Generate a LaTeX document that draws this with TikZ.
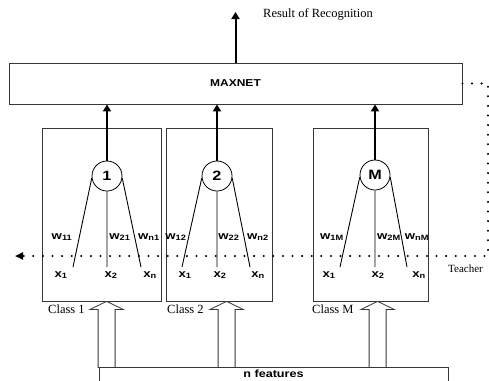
\documentclass[tikz,border=0pt]{standalone}
\usepackage{fontspec}
\setmainfont{Liberation Serif}
\newfontfamily\labelfont[FakeStretch=1.2]{Liberation Sans}
\usepackage{tikz}
\usetikzlibrary{calc}
\usetikzlibrary{arrows.meta}
\definecolor{boxgray}{RGB}{55,55,55}
\newcommand{\featarrow}[2]{%
    \draw[hollow] ($(#1.south west)+(#2,0)$) -- ++(16.5,8) -- ++(-8,0) -- ++(0,58) -- ++(-17,0) -- ++(0,-58) -- ++(-8,0) -- cycle;
}
\tikzset{
    common/.style={draw=boxgray, rectangle, line width=0.8pt, inner sep=0pt},
    classbox/.style={common, minimum height=173pt},
    neuron/.style={draw, circle, line width=0.8pt, minimum size=30pt, inner sep=0pt, font=\labelfont\bfseries\fontsize{13.5}{15}\selectfont},
    weightlabel/.style={anchor=base, inner sep=0pt, font=\labelfont\bfseries\fontsize{11}{13}\selectfont},
    classlabel/.style={anchor=base west, inner sep=0pt, font=\fontsize{12.5}{14}\selectfont},
    wire/.style={line width=0.9pt},
    uparrow/.style={line width=2pt, -{Triangle[length=7pt,width=8pt]}},
    teacher/.style={line width=2.3pt, line cap=round, dash pattern=on 0pt off 9.6pt, -{Triangle[length=8pt,width=7pt]}},
    hollow/.style={draw=boxgray, line width=0.8pt, fill=white}
}
\begin{document}
\begin{tikzpicture}[x=1pt, y=-1pt]
    \useasboundingbox (0,0) rectangle (489,380);

    \path
        (235.5,83.5) node[common, minimum width=453pt, minimum height=41pt, font=\labelfont\bfseries\fontsize{10}{12}\selectfont] (maxnet) {MAXNET}
        (235.5,12) coordinate (result)
        (263,17) node[classlabel] (result-label) {Result of Recognition}
        (101.5,214.5) node[classbox, minimum width=119pt] (c1) {}
        (219,214.5) node[classbox, minimum width=106pt] (c2) {}
        (370.5,214.5) node[classbox, minimum width=115pt] (cM) {}
        (48,313) node[classlabel] (c1-label) {Class 1}
        (167,313) node[classlabel] (c2-label) {Class 2}
        (312,313) node[classlabel] (cM-label) {Class M}
        (448,272) node[classlabel, font=\fontsize{11}{12}\selectfont] (teacher-label) {Teacher};

    % neurons and their inputs
    \path
        (107,176) node[neuron] (n1) {1}
        +(-34,91) coordinate (n1-left)
        +(0,91) coordinate (n1-mid)
        +(34,91) coordinate (n1-right)
        (217,176) node[neuron] (n2) {2}
        +(-35,91) coordinate (n2-left)
        +(0,91) coordinate (n2-mid)
        +(33,91) coordinate (n2-right)
        (375,175) node[neuron] (nM) {M}
        +(-35,92) coordinate (nM-left)
        +(0,92) coordinate (nM-mid)
        +(32,92) coordinate (nM-right);

    \draw[wire] (n1.188) -- (n1-left) (n1) -- (n1-mid) (n1.-8) -- (n1-right);
    \draw[wire] (n2.188) -- (n2-left) (n2) -- (n2-mid) (n2.-8) -- (n2-right);
    \draw[wire] (nM.188) -- (nM-left) (nM) -- (nM-mid) (nM.-8) -- (nM-right);

    \path[weightlabel]
        (62,239) node {w\textsubscript{11}}
        (120,239) node {w\textsubscript{21}}
        (149,239) node {w\textsubscript{n1}}
        (176,239) node {w\textsubscript{12}}
        (229,239) node {w\textsubscript{22}}
        (258,239) node {w\textsubscript{n2}}
        (332,239) node {w\textsubscript{1M}}
        (389,239) node {w\textsubscript{2M}}
        (417,239) node {w\textsubscript{nM}}
        (61,277) node {x\textsubscript{1}}
        (111,277) node {x\textsubscript{2}}
        (150,277) node {x\textsubscript{n}}
        (185,277) node {x\textsubscript{1}}
        (220,277) node {x\textsubscript{2}}
        (258,277) node {x\textsubscript{n}}
        (329,277) node {x\textsubscript{1}}
        (378,277) node {x\textsubscript{2}}
        (419,277) node {x\textsubscript{n}};

    \draw[uparrow] (n1) -- (n1 |- maxnet.south);
    \draw[uparrow] (n2) -- (n2 |- maxnet.south);
    \draw[uparrow] (nM) -- (nM |- maxnet.south);
    \draw[uparrow] (maxnet) -- (result);

    \path (488,256) coordinate (t-corner) (15,256) coordinate (t-end);
    \draw[teacher] (maxnet.east) -| (t-corner) -- (t-end);

    \featarrow{c1}{65}
    \featarrow{c2}{61}
    \featarrow{cM}{65}

    \path (273.5,374) node[common, minimum width=349pt, minimum height=14pt, font=\labelfont\bfseries\fontsize{10.5}{12}\selectfont] (feat) {n features};
\end{tikzpicture}
\end{document}
